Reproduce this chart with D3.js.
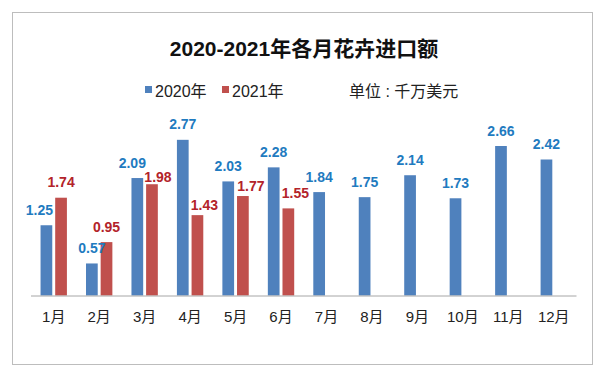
<html>
 <head>
  <meta charset="utf-8">
  <script src="https://cdn.jsdelivr.net/npm/d3@7"></script>
  <style>
    body { margin: 0; background: #fff; }
    svg { display: block; font-family: "Liberation Sans", "Noto Sans CJK SC", sans-serif; }
  </style>
 </head>
 <body>
  <div id="draw"></div>
  <script>
    // data (千万美元)
    var months = ["1月","2月","3月","4月","5月","6月","7月","8月","9月","10月","11月","12月"];
    var seriesNames = ["2020年", "2021年"];
    var values2020 = [1.25, 0.57, 2.09, 2.77, 2.03, 2.28, 1.84, 1.75, 2.14, 1.73, 2.66, 2.42];
    var values2021 = [1.74, 0.95, 1.98, 1.43, 1.77, 1.55];

    // hand nudges for the labels, like the source chart has them
    var nudge2020 = [[-7,0],[0,0],[-5,0]];
    var nudge2021 = [[0,0],[0,0],[6,8],[7,5],[8,5],[7,0]];

    var W = 600, H = 374;
    var barColor = ["#4f81bd", "#c0504d"];
    var labelColor = ["#1f7bc0", "#b3232a"];

    var svg = d3.select("#draw").append("svg").attr("width", W).attr("height", H);

    // frame
    svg.append("rect").attr("x", 12.5).attr("y", 12.5).attr("width", 580).attr("height", 352)
      .attr("fill", "#fff").attr("stroke", "#bdbdbd").attr("stroke-width", 1);

    svg.append("text").attr("x", 304).attr("y", 56).attr("text-anchor", "middle")
      .attr("font-size", 21).attr("font-weight", "bold").attr("fill", "#111")
      .text("2020-2021年各月花卉进口额");

    // legend
    var leg = svg.append("g").attr("font-size", 16).attr("fill", "#222");
    [145, 222].forEach(function(lx, i) {
      leg.append("rect").attr("x", lx).attr("y", 86).attr("width", 7).attr("height", 7).attr("fill", barColor[i]);
      leg.append("text").attr("x", lx + 10).attr("y", 96.5).attr("fill", "#222").text(seriesNames[i]);
    });
    leg.append("text").attr("x", 349).attr("y", 96.5).attr("fill", "#222").text("单位 : 千万美元");

    var x0 = d3.scaleBand().domain(months).range([31, 576.5]).paddingInner(0.42).paddingOuter(0.21);
    var x1 = d3.scaleBand().domain(seriesNames).range([0, x0.bandwidth()]).paddingInner(0.2);
    var y = d3.scaleLinear().domain([0, 3]).range([295.5, 295.5 - 168.6]);

    var rows = [];
    values2020.forEach(function(v, i) { rows.push({m: months[i], s: 0, v: v, i: i}); });
    values2021.forEach(function(v, i) { rows.push({m: months[i], s: 1, v: v, i: i}); });

    svg.append("g").selectAll("rect").data(rows).join("rect")
      .attr("x", function(d) { return x0(d.m) + x1(seriesNames[d.s]); })
      .attr("y", function(d) { return y(d.v); })
      .attr("width", x1.bandwidth())
      .attr("height", function(d) { return y(0) - y(d.v); })
      .attr("fill", function(d) { return barColor[d.s]; });

    svg.append("g").selectAll("text").data(rows).join("text")
      .attr("x", function(d) {
        var n = (d.s ? nudge2021 : nudge2020)[d.i] || [0,0];
        return x0(d.m) + x1(seriesNames[d.s]) + x1.bandwidth() / 2 + n[0];
      })
      .attr("y", function(d) {
        var n = (d.s ? nudge2021 : nudge2020)[d.i] || [0,0];
        return y(d.v) - 10.5 + n[1];
      })
      .attr("text-anchor", "middle")
      .attr("font-size", 14).attr("font-weight", "bold")
      .attr("fill", function(d) { return labelColor[d.s]; })
      .text(function(d) { return d.v.toFixed(2); });

    // x axis
    var ax = svg.append("g").attr("transform", "translate(0," + y(0) + ")")
      .call(d3.axisBottom(x0).tickSize(0).tickPadding(16));
    ax.select(".domain").attr("stroke", "#a6a6a6").attr("d", "M31,0.5H576.5");
    ax.selectAll("text").attr("font-size", 15).attr("fill", "#222")
      .attr("font-family", "Liberation Sans, Noto Sans CJK SC, sans-serif");
  </script>
 </body>
</html>
